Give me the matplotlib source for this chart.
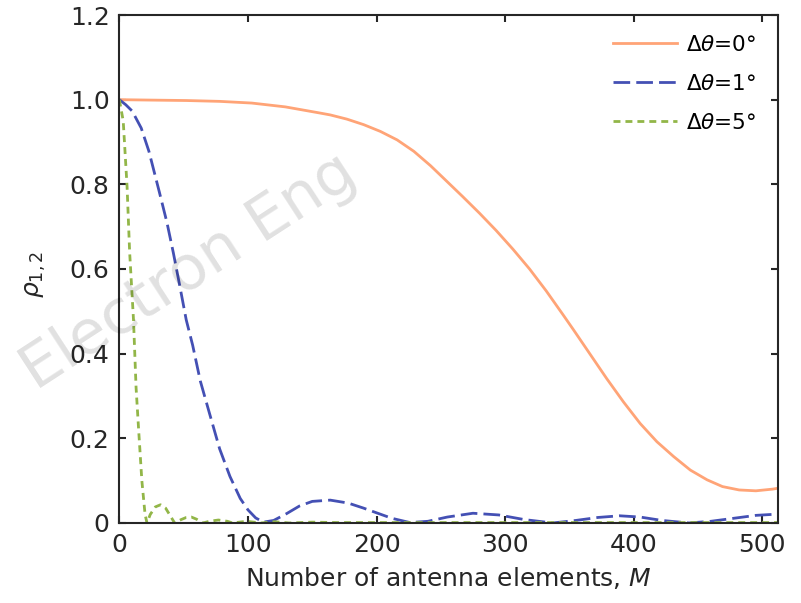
import matplotlib
matplotlib.use('Agg')
import matplotlib.pyplot as plt

# correlation coefficient vs. number of antenna elements
m_d0 = [0, 25, 52, 78, 103, 129, 155, 164, 177, 190, 203, 216, 229, 242, 254,
        267, 280, 293, 306, 319, 332, 345, 353, 366, 379, 392, 405, 418, 431,
        444, 457, 469, 482, 495, 508, 512]
rho_d0 = [1.0, 0.999, 0.998, 0.996, 0.992, 0.983, 0.969, 0.964, 0.954, 0.941,
          0.925, 0.905, 0.878, 0.844, 0.809, 0.771, 0.732, 0.691, 0.647, 0.600,
          0.548, 0.492, 0.457, 0.399, 0.341, 0.286, 0.235, 0.192, 0.157, 0.125,
          0.102, 0.086, 0.078, 0.076, 0.080, 0.082]

m_d1 = [0, 5, 10, 17, 23, 31, 37, 42, 47, 52, 57, 63, 70, 78, 86, 94, 100, 106,
        112, 120, 130, 140, 150, 164, 178, 190, 200, 212, 226, 240, 255, 275, 295,
        315, 337, 355, 372, 389, 405, 422, 443, 460, 480, 495, 512]
rho_d1 = [1.0, 0.988, 0.973, 0.933, 0.878, 0.783, 0.71, 0.638, 0.56, 0.48, 0.42,
          0.335, 0.26, 0.175, 0.11, 0.058, 0.031, 0.012, 0.002, 0.006, 0.022, 0.040,
          0.051, 0.054, 0.047, 0.035, 0.024, 0.011, 0.001, 0.004, 0.014, 0.023,
          0.019, 0.008, 0.0, 0.006, 0.013, 0.017, 0.014, 0.006, 0.0, 0.004, 0.012,
          0.018, 0.021]

m_d5 = [0, 3, 6, 8, 11, 13, 15, 17.5, 20, 21.5, 24, 28, 32, 36, 40, 43, 48, 52,
        56, 60, 65, 70, 77, 84, 88, 99, 110, 121, 132, 150, 170, 200, 300, 400, 512]
rho_d5 = [1.0, 0.95, 0.795, 0.64, 0.48, 0.32, 0.22, 0.10, 0.02, 0.0, 0.02, 0.038,
          0.043, 0.035, 0.015, 0.0, 0.008, 0.013, 0.014, 0.009, 0.0, 0.004, 0.007,
          0.004, 0.0, 0.004, 0.0, 0.003, 0.0, 0.002, 0.001, 0.001, 0.001, 0.001, 0.001]

labels = [r'$\Delta\theta$=0°', r'$\Delta\theta$=1°', r'$\Delta\theta$=5°']
xticks = [0, 100, 200, 300, 400, 500]
yticks = [0, 0.2, 0.4, 0.6, 0.8, 1.0, 1.2]
ytick_labels = ['0', '0.2', '0.4', '0.6', '0.8', '1.0', '1.2']

plt.rcParams['font.family'] = ['DejaVu Sans']
plt.rcParams['mathtext.fontset'] = 'dejavusans'
ink = '#262626'

fig = plt.figure(figsize=(8.01, 6.03), dpi=100)
ax = fig.add_axes([0.149, 0.1327, 0.822, 0.8424])

ax.plot(m_d0, rho_d0, color='#FFA477', lw=2.0, label=labels[0])
ax.plot(m_d1, rho_d1, color='#4450B4', lw=2.0, dashes=(6.0, 2.2), label=labels[1])
ax.plot(m_d5, rho_d5, color='#92B648', lw=2.0, dashes=(2.5, 1.8), label=labels[2])

ax.set_xlim(0, 512)
ax.set_ylim(0, 1.2)
ax.set_xticks(xticks)
ax.set_yticks(yticks)
ax.set_yticklabels(ytick_labels)
ax.tick_params(direction='in', length=5, width=1.5, top=True, right=True,
               labelsize=18, colors=ink, pad=7)
for s in ax.spines.values():
    s.set_linewidth(1.5)
    s.set_color(ink)

ax.set_xlabel(r'Number of antenna elements, $M$', fontsize=18, color=ink, labelpad=6)
ax.set_ylabel(r'$\rho_{1,2}$', fontsize=18, color=ink)
ax.yaxis.set_label_coords(-0.108, 0.49)

ax.legend(loc='upper right', frameon=False, fontsize=15.5, handlelength=3.0,
          labelspacing=0.88, handletextpad=0.4, borderaxespad=0.45,
          bbox_to_anchor=(0.995, 0.997))

# faint journal watermark across the plot
fig.text(0.449, 0.70, 'Electron Eng', fontsize=44, color='#000000', alpha=0.12,
         rotation=33, rotation_mode='anchor', ha='right', va='baseline')

fig.savefig('out.png', dpi=100)
